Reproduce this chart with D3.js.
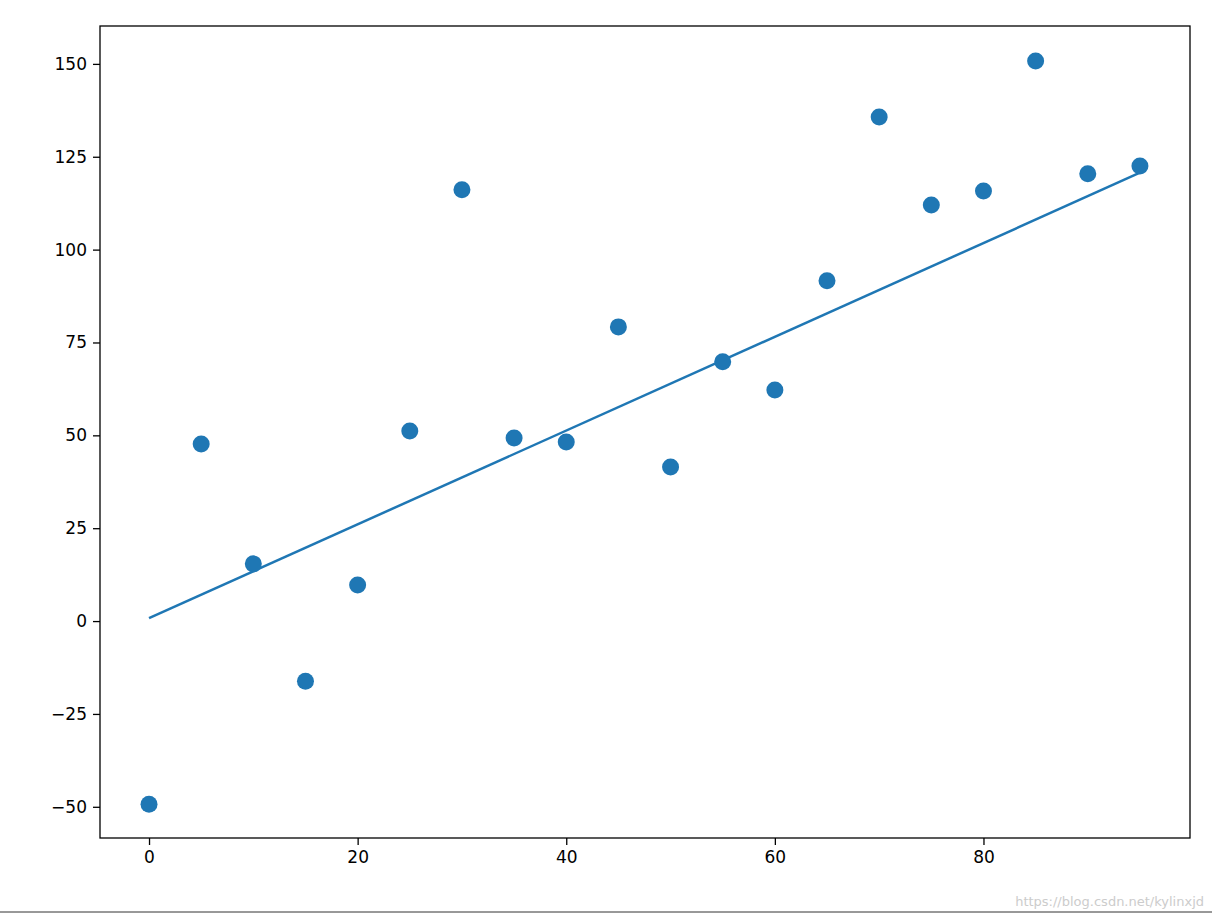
<!DOCTYPE html>
<html>
<head>
<meta charset="utf-8">
<script src="https://cdn.jsdelivr.net/npm/d3@7"></script>
<style>
  body { margin: 0; background: #fff; }
  text { font-family: "DejaVu Sans", sans-serif; }
</style>
</head>
<body>
<svg id="chart"></svg>
<script>
// scatter points
const xs = [0, 5, 10, 15, 20, 25, 30, 35, 40, 45, 50, 55, 60, 65, 70, 75, 80, 85, 90, 95];
const ys = [-49.3, 47.7, 15.4, -16.2, 9.7, 51.2, 116.1, 49.3, 48.2, 79.2, 41.5, 69.8, 62.2, 91.6, 135.7, 112.0, 115.8, 150.8, 120.4, 122.5];
// fitted line endpoints
const lineX = [0, 95];
const lineY = [0.8, 120.7];
const xTicks = [0, 20, 40, 60, 80];
const yTicks = [-50, -25, 0, 25, 50, 75, 100, 125, 150];

const width = 1212, height = 916;
const margin = {top: 26, right: 22, bottom: 78, left: 100};
const innerW = width - margin.left - margin.right;
const innerH = height - margin.top - margin.bottom;

const svg = d3.select('#chart').attr('width', width).attr('height', height);
const chart = svg.append('g').attr('transform', `translate(${margin.left}, ${margin.top})`);

const xscale = d3.scaleLinear().domain([-4.7, 99.8]).range([0, innerW]);
const yscale = d3.scaleLinear().domain([-58.4, 160.2]).range([innerH, 0]);

const xaxis = d3.axisBottom(xscale).tickValues(xTicks).tickSize(7).tickPadding(6).tickSizeOuter(0);
const yaxis = d3.axisLeft(yscale).tickValues(yTicks).tickSize(7).tickPadding(6).tickSizeOuter(0);

const xg = chart.append('g').attr('transform', `translate(0, ${innerH})`).call(xaxis);
const yg = chart.append('g').call(yaxis);
[xg, yg].forEach(g => {
  g.select('.domain').remove();
  g.selectAll('line').attr('stroke', '#000').attr('stroke-width', 1.3);
  g.selectAll('text').style('font-size', '17px').attr('fill', '#000').style('font-family', '"DejaVu Sans", sans-serif');
});

chart.append('rect').attr('x', 0).attr('y', 0).attr('width', innerW).attr('height', innerH)
  .attr('fill', 'none').attr('stroke', '#000').attr('stroke-width', 1.3);

const line = d3.line().x(d => xscale(d[0])).y(d => yscale(d[1]));
chart.append('path')
  .attr('d', line(lineX.map((x, i) => [x, lineY[i]])))
  .attr('stroke', '#1f77b4').attr('stroke-width', 2.5).attr('fill', 'none');

chart.selectAll('.dot')
  .data(xs.map((x, i) => ({x: x, y: ys[i]})))
  .join('circle')
  .attr('class', 'dot')
  .attr('cx', d => xscale(d.x))
  .attr('cy', d => yscale(d.y))
  .attr('r', 8.5)
  .attr('fill', '#1f77b4');

// page footer line + watermark
svg.append('line').attr('x1', 0).attr('x2', width).attr('y1', 912).attr('y2', 912)
  .attr('stroke', '#333').attr('stroke-width', 1);
svg.append('text').attr('x', 1204).attr('y', 906).attr('text-anchor', 'end')
  .style('font-size', '13px').attr('fill', '#ccc').text('https://blog.csdn.net/kylinxjd');
</script>
</body>
</html>
